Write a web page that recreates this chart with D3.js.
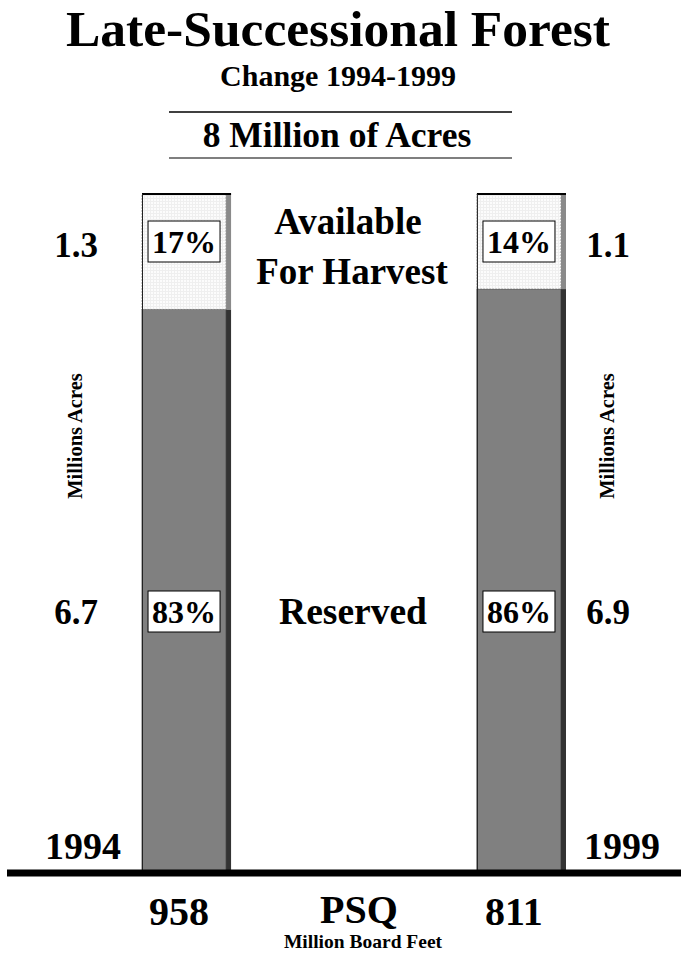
<!DOCTYPE html>
<html>
<head>
<meta charset="utf-8">
<script src="https://cdn.jsdelivr.net/npm/d3@7/dist/d3.min.js"></script>
<style>
  html, body { margin: 0; padding: 0; background: #fff; }
  svg { display: block; }
  text { font-family: "Liberation Serif", "Times New Roman", serif; font-weight: bold; fill: #000; }
</style>
</head>
<body>
<script>
// Late-successional forest, 1994 vs 1999
const years = ["1994", "1999"];
const availablePct = [17, 14];      // % of area available for harvest
const reservedPct = [83, 86];       // % of area reserved
const availableAcres = ["1.3", "1.1"]; // million acres
const reservedAcres = ["6.7", "6.9"];  // million acres
const psq = ["958", "811"];         // probable sale quantity, million board feet

const W = 681, H = 955;
const baseY = 873, topY = 194;

const svg = d3.select("body").append("svg")
  .attr("width", W).attr("height", H);

const defs = svg.append("defs");
const pat = defs.append("pattern")
  .attr("id", "dots").attr("patternUnits", "userSpaceOnUse")
  .attr("width", 3).attr("height", 3);
pat.append("rect").attr("width", 3).attr("height", 3).attr("fill", "#fcfcfc");
pat.append("rect").attr("width", 3).attr("height", 1).attr("fill", "#efefef");
pat.append("rect").attr("width", 1).attr("height", 3).attr("fill", "#efefef");

const x = d3.scaleBand().domain(years).range([142, 561]).paddingInner(0.749).paddingOuter(0);
const y = d3.scaleLinear().domain([0, 100]).range([baseY, topY]);
const bw = x.bandwidth();
const shadowW = 5;

const data = years.map((yr, i) => ({
  year: yr,
  avail: availablePct[i],
  res: reservedPct[i],
  availAc: availableAcres[i],
  resAc: reservedAcres[i],
  psq: psq[i]
}));

// titles
svg.append("text").attr("x", 338).attr("y", 46).attr("text-anchor", "middle")
  .attr("font-size", 51.5).text("Late-Successional Forest");
svg.append("text").attr("x", 338).attr("y", 86).attr("text-anchor", "middle")
  .attr("font-size", 30).text("Change 1994-1999");
svg.append("line").attr("x1", 169).attr("x2", 512).attr("y1", 112).attr("y2", 112)
  .attr("stroke", "#000").attr("stroke-width", 1.3);
svg.append("text").attr("x", 337).attr("y", 147).attr("text-anchor", "middle")
  .attr("font-size", 35.5).text("8 Million of Acres");
svg.append("line").attr("x1", 169).attr("x2", 512).attr("y1", 158).attr("y2", 158)
  .attr("stroke", "#555").attr("stroke-width", 1.3);

// bars
const bars = svg.append("g").selectAll("g").data(data).join("g");

// reserved segment
bars.append("rect")
  .attr("x", d => x(d.year)).attr("width", bw)
  .attr("y", d => y(d.res)).attr("height", d => y(0) - y(d.res))
  .attr("fill", "#808080").attr("stroke", "#444").attr("stroke-width", 0.8);
bars.append("rect")
  .attr("x", d => x(d.year) + bw).attr("width", shadowW)
  .attr("y", d => y(d.res)).attr("height", d => y(0) - y(d.res))
  .attr("fill", "#333");

// available segment
bars.append("rect")
  .attr("x", d => x(d.year)).attr("width", bw)
  .attr("y", d => y(d.res + d.avail)).attr("height", d => y(d.res) - y(d.res + d.avail))
  .attr("fill", "url(#dots)").attr("stroke", "#666").attr("stroke-width", 0.6)
  .attr("stroke-dasharray", "2,1");
bars.append("rect")
  .attr("x", d => x(d.year) + bw).attr("width", shadowW)
  .attr("y", d => y(d.res + d.avail)).attr("height", d => y(d.res) - y(d.res + d.avail))
  .attr("fill", "#8a8a8a");

// top and left edges
bars.append("line")
  .attr("x1", d => x(d.year)).attr("x2", d => x(d.year) + bw + shadowW)
  .attr("y1", d => y(d.res + d.avail)).attr("y2", d => y(d.res + d.avail))
  .attr("stroke", "#000").attr("stroke-width", 2);
bars.append("line")
  .attr("x1", d => x(d.year) + 0.5).attr("x2", d => x(d.year) + 0.5)
  .attr("y1", d => y(100)).attr("y2", y(0))
  .attr("stroke", "#222").attr("stroke-width", 1);

// percentage boxes
const availRowY = 241, resRowY = 611;
function pctBox(sel, rowY, fn) {
  const g = sel.append("g");
  g.append("rect")
    .attr("x", d => x(d.year) + bw / 2 - 36).attr("y", rowY - 20)
    .attr("width", 72).attr("height", 41)
    .attr("fill", "#fff").attr("stroke", "#000").attr("stroke-width", 1);
  g.append("text")
    .attr("x", d => x(d.year) + bw / 2).attr("y", rowY + 12)
    .attr("text-anchor", "middle").attr("font-size", 32)
    .text(d => fn(d) + "%");
}
pctBox(bars, availRowY, d => d.avail);
pctBox(bars, resRowY, d => d.res);

// outer columns: acres, axis captions, years
const sideX = [76, 608];
const yearX = [83, 622];
data.forEach((d, i) => {
  svg.append("text").attr("x", sideX[i]).attr("y", 257).attr("text-anchor", "middle")
    .attr("font-size", 35).text(d.availAc);
  svg.append("text").attr("x", sideX[i]).attr("y", 624).attr("text-anchor", "middle")
    .attr("font-size", 35).text(d.resAc);
  svg.append("text").attr("transform", `translate(${sideX[i] + 6},436) rotate(-90)`)
    .attr("text-anchor", "middle").attr("font-size", 20.5).text("Millions Acres");
  svg.append("text").attr("x", yearX[i]).attr("y", 859).attr("text-anchor", "middle")
    .attr("font-size", 38).text(d.year);
  svg.append("text").attr("x", x(d.year) + bw / 2 - 5).attr("y", 925).attr("text-anchor", "middle")
    .attr("font-size", 40).text(d.psq);
});

// center labels
svg.append("text").attr("x", 348).attr("y", 234).attr("text-anchor", "middle")
  .attr("font-size", 37).text("Available");
svg.append("text").attr("x", 352).attr("y", 284).attr("text-anchor", "middle")
  .attr("font-size", 37).text("For Harvest");
svg.append("text").attr("x", 353).attr("y", 624).attr("text-anchor", "middle")
  .attr("font-size", 37.5).text("Reserved");
svg.append("text").attr("x", 359).attr("y", 923).attr("text-anchor", "middle")
  .attr("font-size", 40).text("PSQ");
svg.append("text").attr("x", 363).attr("y", 948).attr("text-anchor", "middle")
  .attr("font-size", 19.5).text("Million Board Feet");

// baseline
svg.append("line").attr("x1", 7).attr("x2", W).attr("y1", baseY).attr("y2", baseY)
  .attr("stroke", "#000").attr("stroke-width", 7);
</script>
</body>
</html>
